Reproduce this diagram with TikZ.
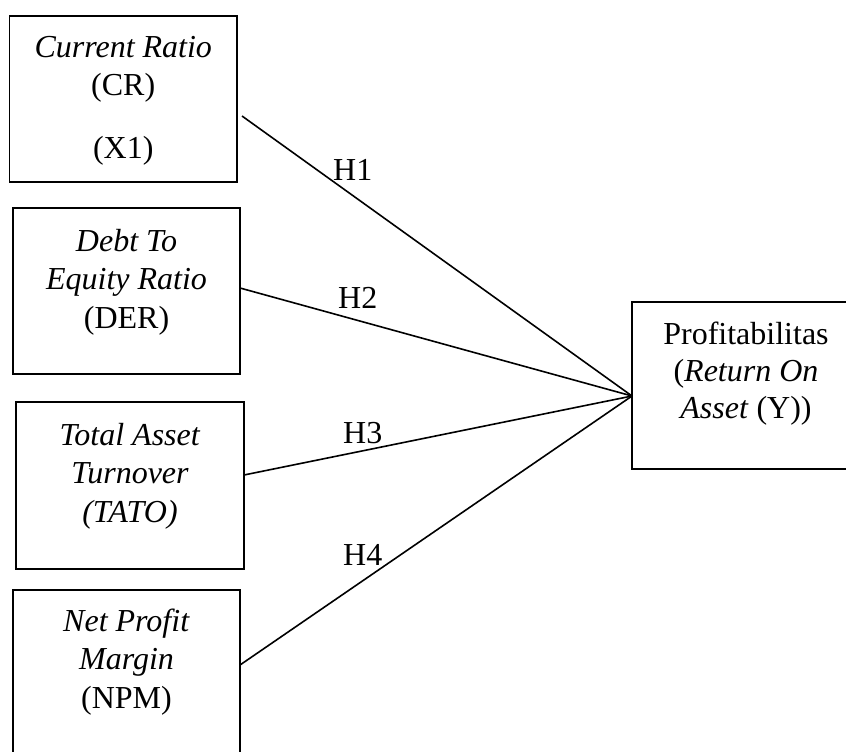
\documentclass[tikz,border=0pt]{standalone}
\usepackage{fontspec}
\setmainfont{Liberation Serif}
\begin{document}
\begin{tikzpicture}[x=1pt,y=-1pt,
  box/.style={draw, line width=1.6pt, rectangle, inner sep=0pt},
  txt/.style={align=center, inner sep=0pt, font=\fontsize{32}{38.5}\selectfont, anchor=base},
  hl/.style={inner sep=0pt, font=\fontsize{32}{36}\selectfont, anchor=base west},
  conn/.style={line width=1.6pt}]
\useasboundingbox (0,0) rectangle (846,752);
% boxes
\node[box, minimum width=227.5pt, minimum height=166pt] (b1) at (123.25,99) {};
\node[box, minimum width=227pt, minimum height=166pt] (b2) at (126.5,291) {};
\node[box, minimum width=228pt, minimum height=167pt] (b3) at (130,485.5) {};
\node[box, minimum width=227pt, minimum height=166pt] (b4) at (126.5,673) {};
\node[box, minimum width=228pt, minimum height=167pt] (r) at (746,385.5) {};
% texts (anchored at the baseline of their last line)
\node[txt] (t1) at (123.25,158) {\textit{Current Ratio}\\(CR)\\[24pt](X1)};
\node[txt] (t2) at (126.5,328) {\textit{Debt To}\\\textit{Equity Ratio}\\(DER)};
\node[txt] (t3) at (130,522) {\textit{Total Asset}\\\textit{Turnover}\\\textit{(TATO)}};
\node[txt] (t4) at (126.5,708) {\textit{Net Profit}\\\textit{Margin}\\(NPM)};
\node[txt, font=\fontsize{32}{37}\selectfont] (tr) at (746,418) {Profitabilitas\\(\textit{Return On}\\\textit{Asset} (Y))};
% connector ends
\coordinate (s1) at (242,116);
\coordinate (s2) at (240,288);
\coordinate (s3) at (244,475);
\coordinate (s4) at (240,665);
\coordinate (p) at (632,396);
\draw[conn] (s1) -- (p);
\draw[conn] (s2) -- (p);
\draw[conn] (s3) -- (p);
\draw[conn] (s4) -- (p);
% labels
\node[hl] (h1) at (333,180) {H1};
\node[hl] (h2) at (338,308) {H2};
\node[hl] (h3) at (343,443) {H3};
\node[hl] (h4) at (343,565) {H4};
\end{tikzpicture}
\end{document}
